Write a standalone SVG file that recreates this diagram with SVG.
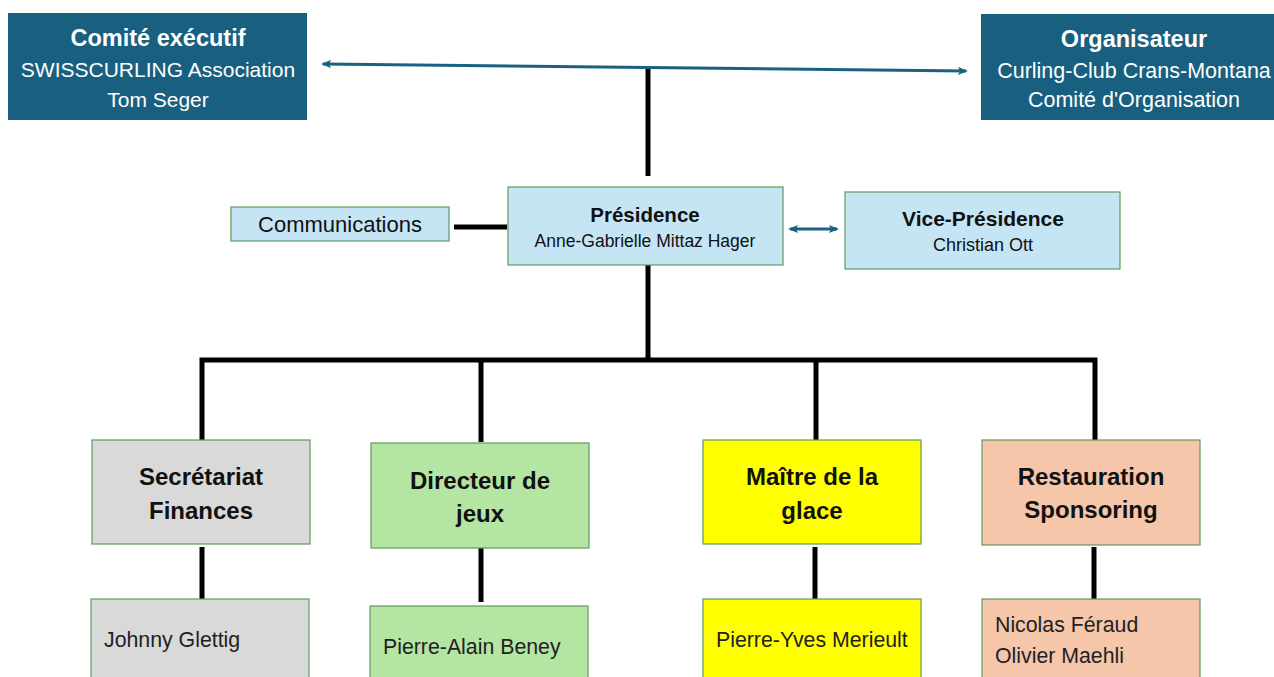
<svg xmlns="http://www.w3.org/2000/svg" width="1274" height="677" viewBox="0 0 1274 677">
<style>
text{font-family:"Liberation Sans","Noto Sans",Arial,sans-serif;}
.dark{fill:#185f80;}
.w{fill:#ffffff;font-size:21.5px;text-anchor:middle;}
.wb{font-weight:bold;font-size:23.5px;}
.box{stroke:#5f9a5f;stroke-width:1.2;}
.t{fill:#111;text-anchor:middle;}
.b{font-weight:bold;}
.h{font-weight:bold;font-size:24px;}
.l{fill:#222;font-size:21.3px;}
.k{stroke:#000;stroke-width:5;fill:none;}
.a{stroke:#1b6282;stroke-width:3;fill:none;}
</style>
<defs>
<marker id="ah" markerWidth="10" markerHeight="8" refX="8" refY="4" orient="auto-start-reverse" markerUnits="userSpaceOnUse">
<path d="M0,0 L10,4 L0,8 L2,4 Z" fill="#1b6282"/>
</marker>
</defs>
<rect width="1274" height="677" fill="#ffffff"/>
<g id="connectors">
<line class="k" x1="648" y1="68" x2="648" y2="176"/>
<line class="a" x1="323" y1="64" x2="966" y2="71" marker-start="url(#ah)" marker-end="url(#ah)"/>
<line class="k" x1="454" y1="227" x2="507" y2="227"/>
<line class="a" x1="790" y1="229" x2="837" y2="229" marker-start="url(#ah)" marker-end="url(#ah)"/>
<line class="k" x1="648" y1="265" x2="648" y2="360"/>
<polyline class="k" points="202,440 202,360 1095,360 1095,440"/>
<line class="k" x1="481" y1="360" x2="481" y2="442"/>
<line class="k" x1="816" y1="360" x2="816" y2="440"/>
<line class="k" x1="202" y1="547" x2="202" y2="599"/>
<line class="k" x1="481" y1="548" x2="481" y2="602"/>
<line class="k" x1="815" y1="547" x2="815" y2="599"/>
<line class="k" x1="1094" y1="547" x2="1094" y2="599"/>
</g>
<g id="comite">
<rect class="dark" x="8" y="13" width="299" height="107"/>
<text class="w wb" x="158" y="46" font-size="24">Comité exécutif</text>
<text class="w" x="158" y="77" style="font-size:21px">SWISSCURLING Association</text>
<text class="w" x="158" y="107" style="font-size:21px">Tom Seger</text>
</g>
<g id="organisateur">
<rect class="dark" x="981" y="14" width="293" height="106"/>
<text class="w wb" x="1134" y="47">Organisateur</text>
<text class="w" x="1134" y="78">Curling-Club Crans-Montana</text>
<text class="w" x="1134" y="107">Comité d'Organisation</text>
</g>
<g id="communications">
<rect class="box" x="231" y="207" width="218" height="34" fill="#c5e5f5"/>
<text class="t" x="340" y="232" font-size="22" fill="#222">Communications</text>
</g>
<g id="presidence">
<rect class="box" x="508" y="187" width="275" height="78" fill="#c5e5f5"/>
<text class="t b" x="645" y="222" font-size="20.5">Présidence</text>
<text class="t" x="645" y="247" font-size="17.5">Anne-Gabrielle Mittaz Hager</text>
</g>
<g id="vicepresidence">
<rect class="box" x="845" y="192" width="275" height="77" fill="#c5e5f5"/>
<text class="t b" x="983" y="226" font-size="21">Vice-Présidence</text>
<text class="t" x="983" y="251" font-size="18">Christian Ott</text>
</g>
<g id="secretariat">
<rect class="box" x="92" y="440" width="218" height="104" fill="#d9d9d9"/>
<text class="t h" x="201" y="485">Secrétariat</text>
<text class="t h" x="201" y="519">Finances</text>
</g>
<g id="directeur">
<rect class="box" x="371" y="443" width="218" height="105" fill="#b5e5a2"/>
<text class="t h" x="480" y="489">Directeur de</text>
<text class="t h" x="480" y="522">jeux</text>
</g>
<g id="maitre">
<rect class="box" x="703" y="440" width="218" height="104" fill="#ffff00"/>
<text class="t h" x="812" y="485">Maître de la</text>
<text class="t h" x="812" y="519">glace</text>
</g>
<g id="restauration">
<rect class="box" x="982" y="440" width="218" height="105" fill="#f5c6aa"/>
<text class="t h" x="1091" y="485">Restauration</text>
<text class="t h" x="1091" y="518">Sponsoring</text>
</g>
<g id="glettig">
<rect class="box" x="91" y="599" width="218" height="90" fill="#d9d9d9"/>
<text class="l" x="104" y="647">Johnny Glettig</text>
</g>
<g id="beney">
<rect class="box" x="370" y="606" width="218" height="90" fill="#b5e5a2"/>
<text class="l" x="383" y="654">Pierre-Alain Beney</text>
</g>
<g id="merieult">
<rect class="box" x="703" y="599" width="218" height="90" fill="#ffff00"/>
<text class="l" x="716" y="647">Pierre-Yves Merieult</text>
</g>
<g id="feraud">
<rect class="box" x="982" y="599" width="218" height="90" fill="#f5c6aa"/>
<text class="l" x="995" y="632">Nicolas Féraud</text>
<text class="l" x="995" y="663">Olivier Maehli</text>
</g>
</svg>
